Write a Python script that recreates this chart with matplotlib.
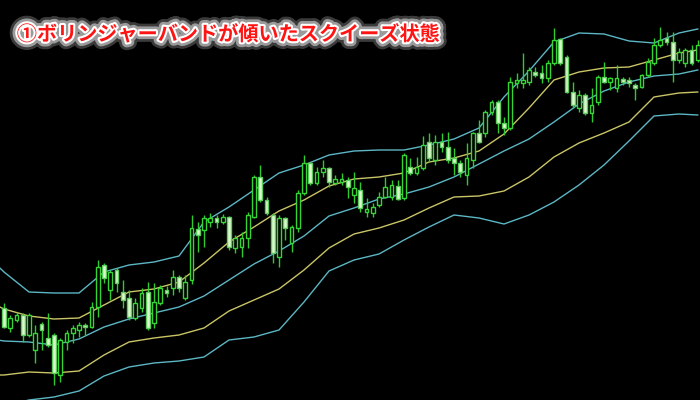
import matplotlib
matplotlib.use("Agg")
import matplotlib.pyplot as plt
import matplotlib.patheffects as pe
import numpy as np

open_ = [308, 328, 320, 315, 335, 350, 324, 338, 335, 375, 342, 333, 330, 325, 327, 307,
         265, 290, 270, 292, 298, 318, 308, 292, 323, 303, 290, 288, 277, 298, 280, 229,
         230, 222, 218, 222, 217, 248, 247, 238, 217, 177, 200, 215, 257, 218, 243, 228,
         193, 163, 183, 172, 168, 183, 182, 180, 195, 190, 212, 213, 205, 197, 197, 186,
         198, 167, 173, 168, 142, 160, 142, 147, 158, 163, 175, 160, 133, 133, 112, 102,
         123, 128, 83, 83, 82, 72, 73, 78, 63, 39, 57, 92, 108, 95, 113, 102,
         77, 82, 88, 79, 80, 85, 87, 75, 63, 45, 38, 42, 60, 63, 50, 60]
high = [303, 315, 312, 313, 313, 325, 322, 313, 333, 338, 330, 325, 322, 323, 302, 260,
        263, 270, 268, 280, 290, 298, 288, 282, 283, 285, 286, 270, 275, 275, 215, 222,
        215, 213, 215, 214, 216, 235, 232, 212, 175, 165, 197, 213, 215, 217, 225, 190,
        155, 162, 167, 160, 167, 175, 173, 177, 172, 182, 198, 203, 192, 177, 180, 180,
        153, 158, 157, 136, 133, 135, 133, 132, 148, 160, 143, 132, 120, 110, 100, 100,
        117, 77, 73, 53, 67, 67, 65, 60, 28, 38, 55, 82, 90, 93, 88, 75,
        62, 77, 65, 77, 77, 83, 74, 58, 38, 27, 32, 32, 48, 48, 45, 40]
low = [328, 332, 322, 342, 337, 363, 350, 347, 385, 382, 350, 343, 337, 335, 328, 317,
       283, 300, 292, 308, 320, 320, 312, 330, 328, 305, 297, 295, 292, 300, 284, 252,
       247, 227, 228, 224, 250, 253, 257, 248, 218, 202, 215, 263, 267, 240, 252, 232,
       195, 185, 185, 177, 187, 185, 185, 198, 203, 212, 217, 217, 207, 198, 200, 200,
       200, 175, 175, 170, 162, 165, 152, 163, 175, 177, 185, 168, 143, 137, 115, 133,
       135, 130, 88, 88, 85, 77, 83, 82, 65, 65, 93, 108, 112, 115, 122, 105,
       83, 90, 92, 85, 87, 100, 88, 77, 65, 47, 45, 82, 63, 67, 65, 62]
close = [327, 318, 315, 335, 315, 333, 330, 345, 373, 340, 333, 328, 325, 327, 307, 267,
         278, 272, 283, 300, 317, 303, 293, 328, 302, 288, 293, 277, 288, 282, 228, 235,
         218, 218, 222, 217, 247, 238, 238, 215, 177, 200, 213, 253, 218, 228, 227, 193,
         163, 183, 172, 168, 182, 179, 179, 187, 188, 208, 209, 207, 197, 187, 185, 199,
         155, 173, 167, 145, 158, 142, 147, 160, 163, 172, 158, 133, 142, 112, 102, 123,
         128, 82, 80, 80, 70, 75, 78, 63, 40, 63, 92, 105, 95, 113, 105, 77,
         82, 78, 78, 82, 83, 88, 75, 62, 45, 40, 42, 60, 52, 50, 63, 45]

# Bollinger lines sampled every 4 candles (same pixel-row reading)
band_at = [-1, 0, 4, 8, 12, 16, 20, 24, 28, 32, 36, 40, 44, 48, 52, 56, 60, 64, 68, 72,
           76, 80, 84, 88, 92, 96, 100, 104, 108, 111]
upper = [266, 272, 292, 293, 293, 272, 265, 262, 256, 222, 207, 190, 173, 165, 155, 151,
         150, 150, 145, 139, 128, 97, 71, 42, 33, 34, 41, 43, 33, 29]
middle = [306, 309, 316, 319, 318, 305, 292, 289, 282, 263, 242, 227, 211, 200, 186, 179,
          177, 173, 162, 158, 151, 134, 108, 80, 72, 68, 67, 60, 53, 50]
lower = [340, 341, 342, 345, 339, 327, 319, 313, 307, 296, 280, 264, 251, 236, 216, 208,
         199, 194, 187, 177, 164, 151, 139, 122, 104, 91, 82, 76, 74, 70]
lower2 = [375, 375, 372, 373, 371, 355, 342, 338, 335, 328, 311, 300, 289, 270, 248, 234,
          228, 220, 208, 197, 196, 191, 177, 157, 143, 133, 122, 97, 93, 92]
lower3 = [408, 406, 400, 397, 391, 376, 367, 363, 361, 357, 340, 337, 330, 302, 271, 260,
          254, 240, 227, 215, 218, 224, 215, 202, 185, 165, 141, 116, 114, 115]

title = "①ボリンジャーバンドが傾いたスクイーズ状態"

# flip pixel rows to price
o = 400 - np.array(open_)
h = 400 - np.array(high)
l = 400 - np.array(low)
c = 400 - np.array(close)
idx = np.arange(len(o))

fig = plt.figure(figsize=(7, 4), dpi=100, facecolor="black")
ax = fig.add_axes([0, 0, 1, 1], facecolor="black")

cyan = "#5cb6c4"
yellow = "#c9c466"
ax.plot(band_at, 400 - np.array(upper), color=cyan, lw=1)
ax.plot(band_at, 400 - np.array(middle), color=yellow, lw=1)
ax.plot(band_at, 400 - np.array(lower), color=cyan, lw=1)
ax.plot(band_at, 400 - np.array(lower2), color=yellow, lw=1)
ax.plot(band_at, 400 - np.array(lower3), color=cyan, lw=1)

up = c >= o
ax.vlines(idx, l, h, color="#2fcc2f", lw=1, zorder=3)
body_lo = np.minimum(o, c)
body_h = np.maximum(np.abs(c - o), 1.0)
ax.bar(idx[up], body_h[up], bottom=body_lo[up], width=0.62,
       color="black", edgecolor="#33d633", linewidth=1, zorder=4)
ax.bar(idx[~up], body_h[~up], bottom=body_lo[~up], width=0.62,
       color="#dcf8cc", edgecolor="#5ccc5c", linewidth=1, zorder=4)

ax.set_xlim(-0.64, 111.36)
ax.set_ylim(0, 400)
ax.axis("off")

fig.text(0.024, 0.915, title, color="#ff1414", fontsize=14.5, fontweight="bold",
         family=["Noto Sans CJK JP", "DejaVu Sans"], va="center", ha="left",
         path_effects=[pe.Stroke(linewidth=11, foreground="#3a3a3a"),
                       pe.Stroke(linewidth=7, foreground="#9a9a9a"),
                       pe.Stroke(linewidth=3, foreground="white"),
                       pe.Normal()])

fig.savefig("out.png", dpi=100, facecolor="black")
